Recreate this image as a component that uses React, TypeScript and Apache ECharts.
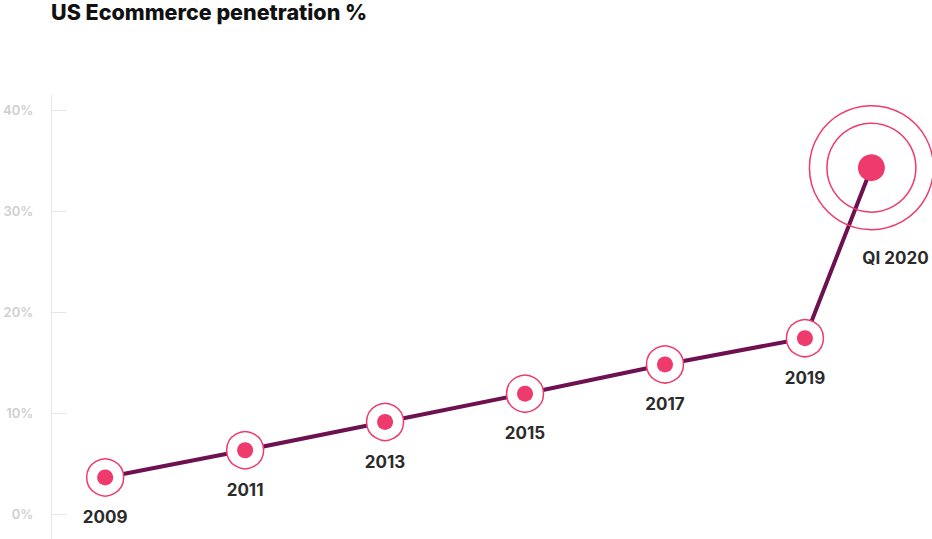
import React, { useEffect, useRef } from "react";
import * as echarts from "echarts";

const xPositions = [2009, 2011, 2013, 2015, 2017, 2019, 2019.95];
const pointLabels = ["2009", "2011", "2013", "2015", "2017", "2019", "QI 2020"];
const penetration = [3.6, 6.3, 9.1, 11.9, 14.8, 17.4, 34.3];
const yTickValues = [0, 10, 20, 30, 40];
const titleText = "US Ecommerce penetration %";

const PINK = "#ee3a6c";
const LINE = "#6e1150";
const FONT = "Inter, 'Noto Sans', sans-serif";

export default function App() {
  const ref = useRef<HTMLDivElement>(null);

  useEffect(() => {
    document.body.style.margin = "0";
    if (!ref.current) return;
    const chart = echarts.init(ref.current, null, { renderer: "svg" });

    const pts = xPositions.map((x, i) => [x, penetration[i]]);
    const lastIdx = pts.length - 1;
    const regular = pts.slice(0, lastIdx).map((p, i) => ({ value: p, name: pointLabels[i] }));
    const last = [{ value: pts[lastIdx], name: pointLabels[lastIdx] }];

    const labelStyle = {
      color: "#2b2b2b",
      fontSize: 17,
      fontWeight: 700,
      fontFamily: FONT,
    };

    chart.setOption({
      animation: false,
      textStyle: { fontFamily: FONT },
      title: {
        text: titleText,
        left: 51,
        top: 1,
        padding: 0,
        textStyle: { fontFamily: FONT, fontSize: 21.5, fontWeight: 800, color: "#111" },
      },
      grid: { left: 51, right: 23.5, top: 95, bottom: 0, containLabel: false },
      xAxis: { type: "value", min: 2008.23, max: 2020.48, show: false },
      yAxis: {
        type: "value",
        min: -2.5,
        max: 41.5,
        axisLine: { show: true, lineStyle: { color: "#e6e6e6", width: 1 } },
        axisTick: {
          show: true,
          inside: true,
          length: 15,
          customValues: yTickValues,
          lineStyle: { color: "#e6e6e6", width: 1 },
        },
        axisLabel: {
          customValues: yTickValues,
          formatter: "{value}%",
          color: "#cfcfcf",
          fontSize: 13,
          fontWeight: 600,
          margin: 18,
          fontFamily: FONT,
        },
        splitLine: { show: false },
      },
      series: [
        {
          type: "line",
          data: pts,
          symbol: "none",
          silent: true,
          lineStyle: { color: LINE, width: 4 },
          z: 1,
        },
        {
          type: "scatter",
          data: regular,
          symbol: "circle",
          symbolSize: 37,
          silent: true,
          itemStyle: { color: "#ffffff", borderColor: PINK, borderWidth: 1.5, opacity: 1 },
          label: {
            show: true,
            position: "bottom",
            distance: 12,
            formatter: "{b}",
            ...labelStyle,
          },
          z: 2,
        },
        {
          type: "scatter",
          data: regular,
          symbol: "circle",
          symbolSize: 16,
          silent: true,
          itemStyle: { color: PINK, opacity: 1 },
          z: 3,
        },
        {
          type: "scatter",
          data: last,
          symbol: "circle",
          symbolSize: 124,
          silent: true,
          itemStyle: { color: "rgba(0,0,0,0)", borderColor: PINK, borderWidth: 1.5, opacity: 1 },
          z: 2,
        },
        {
          type: "scatter",
          data: last,
          symbol: "circle",
          symbolSize: 89,
          silent: true,
          itemStyle: { color: "rgba(0,0,0,0)", borderColor: PINK, borderWidth: 1.5, opacity: 1 },
          z: 2,
        },
        {
          type: "scatter",
          data: last,
          symbol: "circle",
          symbolSize: 27,
          silent: true,
          itemStyle: { color: PINK, opacity: 1 },
          label: {
            show: true,
            position: "inside",
            offset: [24, 90],
            formatter: "{b}",
            ...labelStyle,
          },
          z: 3,
        },
      ],
    });

    return () => chart.dispose();
  }, []);

  return <div ref={ref} style={{ width: 932, height: 539 }} />;
}
